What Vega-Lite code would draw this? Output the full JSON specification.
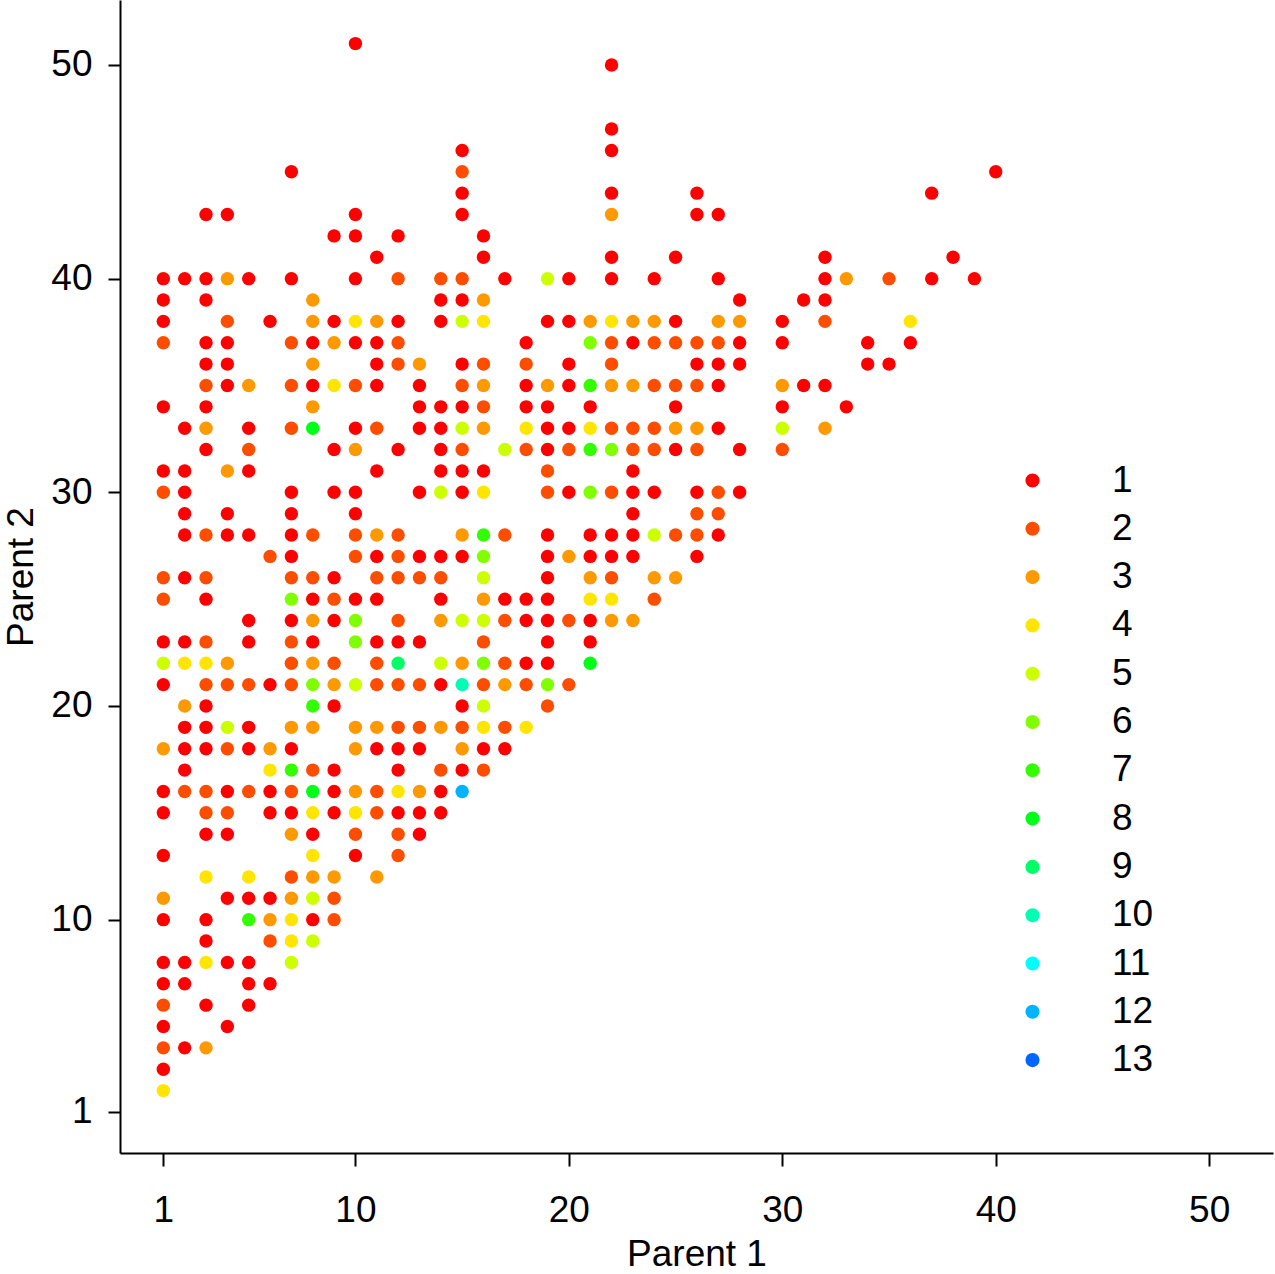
{
"$schema": "https://vega.github.io/schema/vega-lite/v6.json",
"width": 1153,
"height": 1153,
"autosize": {"type": "none"},
"padding": {"left": 120, "top": 0, "right": 2, "bottom": 121},
"background": "white",
"config": {"view": {"stroke": null}, "font": "Liberation Sans"},
"data": {"values": [
{"p1":10,"p2":51,"n":1},
{"p1":22,"p2":50,"n":1},
{"p1":22,"p2":47,"n":1},
{"p1":15,"p2":46,"n":1},{"p1":22,"p2":46,"n":1},
{"p1":7,"p2":45,"n":1},{"p1":15,"p2":45,"n":2},{"p1":40,"p2":45,"n":1},
{"p1":15,"p2":44,"n":1},{"p1":22,"p2":44,"n":1},{"p1":26,"p2":44,"n":1},{"p1":37,"p2":44,"n":1},
{"p1":3,"p2":43,"n":1},{"p1":4,"p2":43,"n":1},{"p1":10,"p2":43,"n":1},{"p1":15,"p2":43,"n":1},{"p1":22,"p2":43,"n":3},{"p1":26,"p2":43,"n":1},{"p1":27,"p2":43,"n":1},
{"p1":9,"p2":42,"n":1},{"p1":10,"p2":42,"n":1},{"p1":12,"p2":42,"n":1},{"p1":16,"p2":42,"n":1},
{"p1":11,"p2":41,"n":1},{"p1":16,"p2":41,"n":1},{"p1":22,"p2":41,"n":1},{"p1":25,"p2":41,"n":1},{"p1":32,"p2":41,"n":1},{"p1":38,"p2":41,"n":1},
{"p1":1,"p2":40,"n":1},{"p1":2,"p2":40,"n":1},{"p1":3,"p2":40,"n":1},{"p1":4,"p2":40,"n":3},{"p1":5,"p2":40,"n":1},{"p1":7,"p2":40,"n":1},{"p1":10,"p2":40,"n":1},{"p1":12,"p2":40,"n":2},{"p1":14,"p2":40,"n":2},{"p1":15,"p2":40,"n":2},{"p1":17,"p2":40,"n":1},{"p1":19,"p2":40,"n":5},{"p1":20,"p2":40,"n":1},{"p1":22,"p2":40,"n":1},{"p1":24,"p2":40,"n":1},{"p1":27,"p2":40,"n":1},{"p1":32,"p2":40,"n":1},{"p1":33,"p2":40,"n":3},{"p1":35,"p2":40,"n":2},{"p1":37,"p2":40,"n":1},{"p1":39,"p2":40,"n":1},
{"p1":1,"p2":39,"n":1},{"p1":3,"p2":39,"n":1},{"p1":8,"p2":39,"n":3},{"p1":14,"p2":39,"n":1},{"p1":15,"p2":39,"n":1},{"p1":16,"p2":39,"n":3},{"p1":28,"p2":39,"n":1},{"p1":31,"p2":39,"n":1},{"p1":32,"p2":39,"n":1},
{"p1":1,"p2":38,"n":1},{"p1":4,"p2":38,"n":2},{"p1":6,"p2":38,"n":1},{"p1":8,"p2":38,"n":3},{"p1":9,"p2":38,"n":1},{"p1":10,"p2":38,"n":4},{"p1":11,"p2":38,"n":3},{"p1":12,"p2":38,"n":1},{"p1":14,"p2":38,"n":1},{"p1":15,"p2":38,"n":5},{"p1":16,"p2":38,"n":4},{"p1":19,"p2":38,"n":1},{"p1":20,"p2":38,"n":1},{"p1":21,"p2":38,"n":3},{"p1":22,"p2":38,"n":4},{"p1":23,"p2":38,"n":3},{"p1":24,"p2":38,"n":3},{"p1":25,"p2":38,"n":1},{"p1":27,"p2":38,"n":3},{"p1":28,"p2":38,"n":3},{"p1":30,"p2":38,"n":1},{"p1":32,"p2":38,"n":2},{"p1":36,"p2":38,"n":4},
{"p1":1,"p2":37,"n":2},{"p1":3,"p2":37,"n":1},{"p1":4,"p2":37,"n":1},{"p1":7,"p2":37,"n":2},{"p1":8,"p2":37,"n":1},{"p1":9,"p2":37,"n":3},{"p1":10,"p2":37,"n":1},{"p1":11,"p2":37,"n":1},{"p1":12,"p2":37,"n":2},{"p1":18,"p2":37,"n":1},{"p1":21,"p2":37,"n":6},{"p1":22,"p2":37,"n":2},{"p1":23,"p2":37,"n":1},{"p1":24,"p2":37,"n":2},{"p1":25,"p2":37,"n":2},{"p1":26,"p2":37,"n":2},{"p1":27,"p2":37,"n":2},{"p1":28,"p2":37,"n":1},{"p1":30,"p2":37,"n":1},{"p1":34,"p2":37,"n":1},{"p1":36,"p2":37,"n":1},
{"p1":3,"p2":36,"n":1},{"p1":4,"p2":36,"n":1},{"p1":8,"p2":36,"n":3},{"p1":11,"p2":36,"n":1},{"p1":12,"p2":36,"n":2},{"p1":13,"p2":36,"n":3},{"p1":15,"p2":36,"n":1},{"p1":16,"p2":36,"n":2},{"p1":18,"p2":36,"n":2},{"p1":20,"p2":36,"n":1},{"p1":22,"p2":36,"n":2},{"p1":26,"p2":36,"n":1},{"p1":27,"p2":36,"n":1},{"p1":28,"p2":36,"n":1},{"p1":34,"p2":36,"n":1},{"p1":35,"p2":36,"n":1},
{"p1":3,"p2":35,"n":2},{"p1":4,"p2":35,"n":1},{"p1":5,"p2":35,"n":3},{"p1":7,"p2":35,"n":2},{"p1":8,"p2":35,"n":1},{"p1":9,"p2":35,"n":4},{"p1":10,"p2":35,"n":2},{"p1":11,"p2":35,"n":1},{"p1":13,"p2":35,"n":1},{"p1":15,"p2":35,"n":2},{"p1":16,"p2":35,"n":3},{"p1":18,"p2":35,"n":1},{"p1":19,"p2":35,"n":3},{"p1":20,"p2":35,"n":1},{"p1":21,"p2":35,"n":7},{"p1":22,"p2":35,"n":3},{"p1":23,"p2":35,"n":3},{"p1":24,"p2":35,"n":2},{"p1":25,"p2":35,"n":2},{"p1":26,"p2":35,"n":2},{"p1":27,"p2":35,"n":1},{"p1":30,"p2":35,"n":3},{"p1":31,"p2":35,"n":1},{"p1":32,"p2":35,"n":1},
{"p1":1,"p2":34,"n":1},{"p1":3,"p2":34,"n":1},{"p1":8,"p2":34,"n":3},{"p1":13,"p2":34,"n":1},{"p1":14,"p2":34,"n":1},{"p1":15,"p2":34,"n":1},{"p1":16,"p2":34,"n":2},{"p1":18,"p2":34,"n":1},{"p1":19,"p2":34,"n":1},{"p1":21,"p2":34,"n":1},{"p1":25,"p2":34,"n":1},{"p1":30,"p2":34,"n":1},{"p1":33,"p2":34,"n":1},
{"p1":2,"p2":33,"n":1},{"p1":3,"p2":33,"n":3},{"p1":5,"p2":33,"n":1},{"p1":7,"p2":33,"n":2},{"p1":8,"p2":33,"n":8},{"p1":10,"p2":33,"n":1},{"p1":11,"p2":33,"n":2},{"p1":13,"p2":33,"n":1},{"p1":14,"p2":33,"n":1},{"p1":15,"p2":33,"n":5},{"p1":16,"p2":33,"n":3},{"p1":18,"p2":33,"n":4},{"p1":19,"p2":33,"n":1},{"p1":20,"p2":33,"n":1},{"p1":21,"p2":33,"n":4},{"p1":22,"p2":33,"n":2},{"p1":23,"p2":33,"n":2},{"p1":24,"p2":33,"n":2},{"p1":25,"p2":33,"n":3},{"p1":26,"p2":33,"n":3},{"p1":27,"p2":33,"n":1},{"p1":30,"p2":33,"n":5},{"p1":32,"p2":33,"n":3},
{"p1":3,"p2":32,"n":1},{"p1":5,"p2":32,"n":2},{"p1":9,"p2":32,"n":1},{"p1":10,"p2":32,"n":3},{"p1":12,"p2":32,"n":1},{"p1":14,"p2":32,"n":1},{"p1":15,"p2":32,"n":2},{"p1":17,"p2":32,"n":5},{"p1":18,"p2":32,"n":2},{"p1":19,"p2":32,"n":1},{"p1":20,"p2":32,"n":2},{"p1":21,"p2":32,"n":7},{"p1":22,"p2":32,"n":6},{"p1":23,"p2":32,"n":2},{"p1":24,"p2":32,"n":2},{"p1":25,"p2":32,"n":1},{"p1":26,"p2":32,"n":2},{"p1":28,"p2":32,"n":1},{"p1":30,"p2":32,"n":2},
{"p1":1,"p2":31,"n":1},{"p1":2,"p2":31,"n":1},{"p1":4,"p2":31,"n":3},{"p1":5,"p2":31,"n":1},{"p1":11,"p2":31,"n":1},{"p1":14,"p2":31,"n":1},{"p1":15,"p2":31,"n":1},{"p1":16,"p2":31,"n":1},{"p1":19,"p2":31,"n":2},{"p1":23,"p2":31,"n":1},
{"p1":1,"p2":30,"n":2},{"p1":2,"p2":30,"n":1},{"p1":7,"p2":30,"n":1},{"p1":9,"p2":30,"n":1},{"p1":10,"p2":30,"n":1},{"p1":13,"p2":30,"n":1},{"p1":14,"p2":30,"n":5},{"p1":15,"p2":30,"n":1},{"p1":16,"p2":30,"n":4},{"p1":19,"p2":30,"n":2},{"p1":20,"p2":30,"n":1},{"p1":21,"p2":30,"n":6},{"p1":22,"p2":30,"n":2},{"p1":23,"p2":30,"n":1},{"p1":24,"p2":30,"n":1},{"p1":26,"p2":30,"n":1},{"p1":27,"p2":30,"n":2},{"p1":28,"p2":30,"n":1},
{"p1":2,"p2":29,"n":1},{"p1":4,"p2":29,"n":1},{"p1":7,"p2":29,"n":1},{"p1":10,"p2":29,"n":1},{"p1":23,"p2":29,"n":1},{"p1":26,"p2":29,"n":2},{"p1":27,"p2":29,"n":2},
{"p1":2,"p2":28,"n":1},{"p1":3,"p2":28,"n":2},{"p1":4,"p2":28,"n":1},{"p1":5,"p2":28,"n":1},{"p1":7,"p2":28,"n":1},{"p1":8,"p2":28,"n":2},{"p1":10,"p2":28,"n":2},{"p1":11,"p2":28,"n":3},{"p1":12,"p2":28,"n":2},{"p1":15,"p2":28,"n":3},{"p1":16,"p2":28,"n":7},{"p1":17,"p2":28,"n":2},{"p1":19,"p2":28,"n":1},{"p1":21,"p2":28,"n":1},{"p1":22,"p2":28,"n":1},{"p1":23,"p2":28,"n":1},{"p1":24,"p2":28,"n":5},{"p1":25,"p2":28,"n":2},{"p1":26,"p2":28,"n":2},{"p1":27,"p2":28,"n":1},
{"p1":6,"p2":27,"n":2},{"p1":7,"p2":27,"n":1},{"p1":10,"p2":27,"n":2},{"p1":11,"p2":27,"n":1},{"p1":12,"p2":27,"n":2},{"p1":13,"p2":27,"n":1},{"p1":14,"p2":27,"n":1},{"p1":15,"p2":27,"n":1},{"p1":16,"p2":27,"n":6},{"p1":19,"p2":27,"n":1},{"p1":20,"p2":27,"n":3},{"p1":21,"p2":27,"n":1},{"p1":22,"p2":27,"n":1},{"p1":23,"p2":27,"n":1},{"p1":26,"p2":27,"n":1},
{"p1":1,"p2":26,"n":2},{"p1":2,"p2":26,"n":1},{"p1":3,"p2":26,"n":2},{"p1":7,"p2":26,"n":2},{"p1":8,"p2":26,"n":2},{"p1":9,"p2":26,"n":1},{"p1":11,"p2":26,"n":2},{"p1":12,"p2":26,"n":2},{"p1":13,"p2":26,"n":2},{"p1":14,"p2":26,"n":2},{"p1":16,"p2":26,"n":5},{"p1":19,"p2":26,"n":1},{"p1":21,"p2":26,"n":3},{"p1":22,"p2":26,"n":2},{"p1":24,"p2":26,"n":3},{"p1":25,"p2":26,"n":3},
{"p1":1,"p2":25,"n":2},{"p1":3,"p2":25,"n":1},{"p1":7,"p2":25,"n":6},{"p1":8,"p2":25,"n":1},{"p1":9,"p2":25,"n":2},{"p1":10,"p2":25,"n":1},{"p1":11,"p2":25,"n":1},{"p1":14,"p2":25,"n":1},{"p1":16,"p2":25,"n":3},{"p1":17,"p2":25,"n":1},{"p1":18,"p2":25,"n":1},{"p1":19,"p2":25,"n":1},{"p1":21,"p2":25,"n":4},{"p1":22,"p2":25,"n":4},{"p1":24,"p2":25,"n":2},
{"p1":5,"p2":24,"n":1},{"p1":7,"p2":24,"n":1},{"p1":8,"p2":24,"n":3},{"p1":9,"p2":24,"n":1},{"p1":10,"p2":24,"n":6},{"p1":12,"p2":24,"n":2},{"p1":14,"p2":24,"n":3},{"p1":15,"p2":24,"n":5},{"p1":16,"p2":24,"n":5},{"p1":17,"p2":24,"n":2},{"p1":18,"p2":24,"n":1},{"p1":19,"p2":24,"n":1},{"p1":20,"p2":24,"n":2},{"p1":21,"p2":24,"n":1},{"p1":22,"p2":24,"n":3},{"p1":23,"p2":24,"n":3},
{"p1":1,"p2":23,"n":1},{"p1":2,"p2":23,"n":1},{"p1":3,"p2":23,"n":2},{"p1":5,"p2":23,"n":1},{"p1":7,"p2":23,"n":2},{"p1":8,"p2":23,"n":1},{"p1":10,"p2":23,"n":6},{"p1":11,"p2":23,"n":1},{"p1":12,"p2":23,"n":1},{"p1":13,"p2":23,"n":1},{"p1":16,"p2":23,"n":2},{"p1":19,"p2":23,"n":1},{"p1":21,"p2":23,"n":1},
{"p1":1,"p2":22,"n":5},{"p1":2,"p2":22,"n":4},{"p1":3,"p2":22,"n":4},{"p1":4,"p2":22,"n":3},{"p1":7,"p2":22,"n":2},{"p1":8,"p2":22,"n":3},{"p1":9,"p2":22,"n":2},{"p1":11,"p2":22,"n":2},{"p1":12,"p2":22,"n":9},{"p1":14,"p2":22,"n":5},{"p1":15,"p2":22,"n":3},{"p1":16,"p2":22,"n":6},{"p1":17,"p2":22,"n":2},{"p1":18,"p2":22,"n":1},{"p1":19,"p2":22,"n":1},{"p1":21,"p2":22,"n":8},
{"p1":1,"p2":21,"n":1},{"p1":3,"p2":21,"n":2},{"p1":4,"p2":21,"n":2},{"p1":5,"p2":21,"n":2},{"p1":6,"p2":21,"n":1},{"p1":7,"p2":21,"n":2},{"p1":8,"p2":21,"n":6},{"p1":9,"p2":21,"n":3},{"p1":10,"p2":21,"n":5},{"p1":11,"p2":21,"n":2},{"p1":12,"p2":21,"n":2},{"p1":13,"p2":21,"n":2},{"p1":14,"p2":21,"n":1},{"p1":15,"p2":21,"n":10},{"p1":16,"p2":21,"n":2},{"p1":17,"p2":21,"n":3},{"p1":18,"p2":21,"n":2},{"p1":19,"p2":21,"n":6},{"p1":20,"p2":21,"n":2},
{"p1":2,"p2":20,"n":3},{"p1":3,"p2":20,"n":1},{"p1":8,"p2":20,"n":7},{"p1":9,"p2":20,"n":1},{"p1":15,"p2":20,"n":1},{"p1":16,"p2":20,"n":5},{"p1":19,"p2":20,"n":2},
{"p1":2,"p2":19,"n":1},{"p1":3,"p2":19,"n":1},{"p1":4,"p2":19,"n":5},{"p1":5,"p2":19,"n":1},{"p1":7,"p2":19,"n":3},{"p1":8,"p2":19,"n":3},{"p1":10,"p2":19,"n":3},{"p1":11,"p2":19,"n":3},{"p1":12,"p2":19,"n":2},{"p1":13,"p2":19,"n":2},{"p1":14,"p2":19,"n":3},{"p1":15,"p2":19,"n":2},{"p1":16,"p2":19,"n":4},{"p1":17,"p2":19,"n":2},{"p1":18,"p2":19,"n":4},
{"p1":1,"p2":18,"n":3},{"p1":2,"p2":18,"n":1},{"p1":3,"p2":18,"n":1},{"p1":4,"p2":18,"n":2},{"p1":5,"p2":18,"n":1},{"p1":6,"p2":18,"n":3},{"p1":7,"p2":18,"n":1},{"p1":10,"p2":18,"n":3},{"p1":11,"p2":18,"n":1},{"p1":12,"p2":18,"n":1},{"p1":13,"p2":18,"n":1},{"p1":15,"p2":18,"n":3},{"p1":16,"p2":18,"n":1},{"p1":17,"p2":18,"n":1},
{"p1":2,"p2":17,"n":1},{"p1":6,"p2":17,"n":4},{"p1":7,"p2":17,"n":7},{"p1":8,"p2":17,"n":2},{"p1":9,"p2":17,"n":1},{"p1":12,"p2":17,"n":1},{"p1":14,"p2":17,"n":2},{"p1":15,"p2":17,"n":1},{"p1":16,"p2":17,"n":2},
{"p1":1,"p2":16,"n":1},{"p1":2,"p2":16,"n":2},{"p1":3,"p2":16,"n":2},{"p1":4,"p2":16,"n":1},{"p1":5,"p2":16,"n":2},{"p1":6,"p2":16,"n":1},{"p1":7,"p2":16,"n":2},{"p1":8,"p2":16,"n":8},{"p1":9,"p2":16,"n":1},{"p1":10,"p2":16,"n":3},{"p1":11,"p2":16,"n":2},{"p1":12,"p2":16,"n":4},{"p1":13,"p2":16,"n":3},{"p1":14,"p2":16,"n":1},{"p1":15,"p2":16,"n":12},
{"p1":1,"p2":15,"n":1},{"p1":3,"p2":15,"n":2},{"p1":4,"p2":15,"n":2},{"p1":6,"p2":15,"n":1},{"p1":7,"p2":15,"n":1},{"p1":8,"p2":15,"n":4},{"p1":9,"p2":15,"n":1},{"p1":10,"p2":15,"n":4},{"p1":11,"p2":15,"n":2},{"p1":12,"p2":15,"n":1},{"p1":13,"p2":15,"n":1},{"p1":14,"p2":15,"n":1},
{"p1":3,"p2":14,"n":1},{"p1":4,"p2":14,"n":1},{"p1":7,"p2":14,"n":3},{"p1":8,"p2":14,"n":1},{"p1":10,"p2":14,"n":2},{"p1":12,"p2":14,"n":2},{"p1":13,"p2":14,"n":1},
{"p1":1,"p2":13,"n":1},{"p1":8,"p2":13,"n":4},{"p1":10,"p2":13,"n":1},{"p1":12,"p2":13,"n":2},
{"p1":3,"p2":12,"n":4},{"p1":5,"p2":12,"n":4},{"p1":7,"p2":12,"n":2},{"p1":8,"p2":12,"n":3},{"p1":9,"p2":12,"n":3},{"p1":11,"p2":12,"n":3},
{"p1":1,"p2":11,"n":3},{"p1":4,"p2":11,"n":1},{"p1":5,"p2":11,"n":1},{"p1":6,"p2":11,"n":1},{"p1":7,"p2":11,"n":3},{"p1":8,"p2":11,"n":5},{"p1":9,"p2":11,"n":2},
{"p1":1,"p2":10,"n":1},{"p1":3,"p2":10,"n":1},{"p1":5,"p2":10,"n":7},{"p1":6,"p2":10,"n":3},{"p1":7,"p2":10,"n":4},{"p1":8,"p2":10,"n":1},{"p1":9,"p2":10,"n":2},
{"p1":3,"p2":9,"n":1},{"p1":6,"p2":9,"n":2},{"p1":7,"p2":9,"n":4},{"p1":8,"p2":9,"n":5},
{"p1":1,"p2":8,"n":1},{"p1":2,"p2":8,"n":1},{"p1":3,"p2":8,"n":4},{"p1":4,"p2":8,"n":1},{"p1":5,"p2":8,"n":1},{"p1":7,"p2":8,"n":5},
{"p1":1,"p2":7,"n":1},{"p1":2,"p2":7,"n":1},{"p1":5,"p2":7,"n":1},{"p1":6,"p2":7,"n":1},
{"p1":1,"p2":6,"n":2},{"p1":3,"p2":6,"n":1},{"p1":5,"p2":6,"n":1},
{"p1":1,"p2":5,"n":1},{"p1":4,"p2":5,"n":1},
{"p1":1,"p2":4,"n":2},{"p1":2,"p2":4,"n":1},{"p1":3,"p2":4,"n":3},
{"p1":1,"p2":3,"n":1},
{"p1":1,"p2":2,"n":4}
]},
"mark": {"type": "circle", "size": 180, "opacity": 1},
"encoding": {
"x": {"field": "p1", "type": "quantitative",
 "scale": {"domain": [-1.03, 52.99], "nice": false, "zero": false},
 "axis": {"values": [1, 10, 20, 30, 40, 50], "grid": false, "title": "Parent 1",
  "domainColor": "black", "domainWidth": 2, "tickColor": "black", "tickWidth": 2, "tickSize": 13,
  "labelFontSize": 37, "labelColor": "black", "labelBaseline": "alphabetic", "labelPadding": 55, "labelFlush": false,
  "titleFontSize": 37, "titleFontWeight": "normal", "titleColor": "black", "titleBaseline": "alphabetic", "titleY": 112}},
"y": {"field": "p2", "type": "quantitative",
 "scale": {"domain": [-0.92, 53.04], "nice": false, "zero": false},
 "axis": {"values": [1, 10, 20, 30, 40, 50], "grid": false, "title": "Parent 2",
  "domainColor": "black", "domainWidth": 2, "tickColor": "black", "tickWidth": 2, "tickSize": 12,
  "labelFontSize": 37, "labelColor": "black", "labelPadding": 16, "labelFlush": false,
  "titleFontSize": 37, "titleFontWeight": "normal", "titleColor": "black", "titleAngle": 270, "titleBaseline": "alphabetic", "titleAlign": "center", "titleX": -88, "titleY": 576.5}},
"color": {"field": "n", "type": "ordinal",
 "scale": {"domain": [1,2,3,4,5,6,7,8,9,10,11,12,13],
  "range": ["#FF0000","#FF4D00","#FF9900","#FFE500","#CCFF00","#80FF00","#33FF00","#00FF19","#00FF66","#00FFB2","#00FFFF","#00B3FF","#0066FF"]},
 "legend": {"title": null, "orient": "none", "legendX": 894, "legendY": 462, "padding": 0,
  "labelFontSize": 37, "labelColor": "black", "symbolSize": 200, "symbolType": "circle", "symbolStrokeWidth": 0,
  "labelOffset": 61, "rowPadding": 10.3}}
}
}
